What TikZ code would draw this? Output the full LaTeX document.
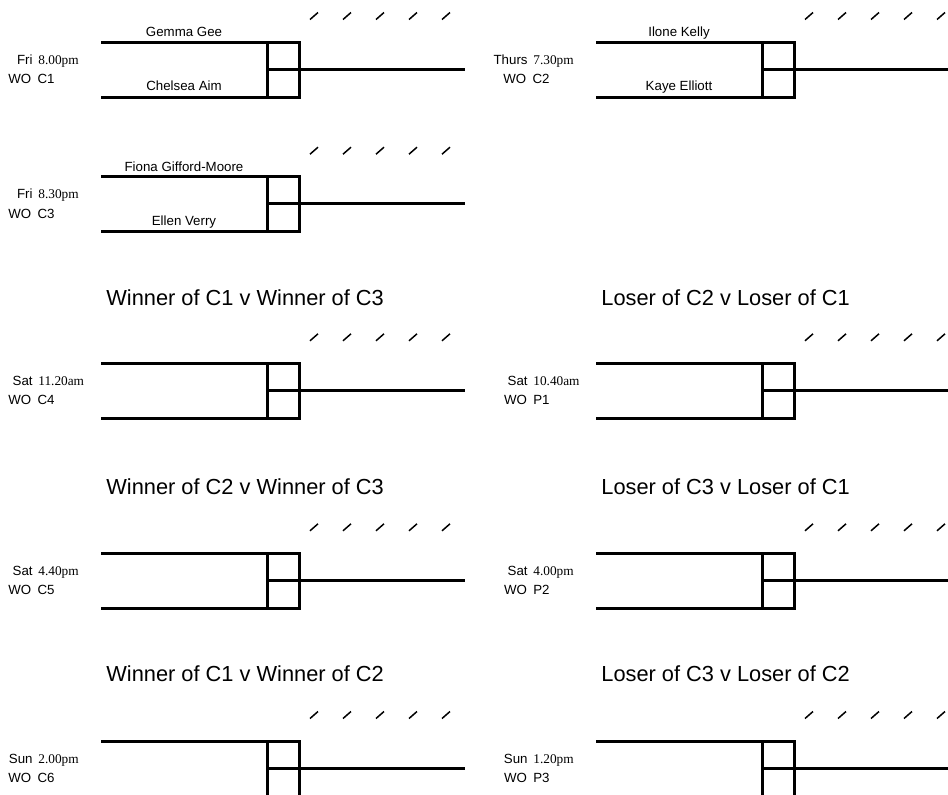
\documentclass[tikz,border=0pt]{standalone}
\usepackage{fontspec}
\setmainfont{Liberation Sans}
\newfontfamily\timefont{Liberation Serif}
\usetikzlibrary{positioning}

\tikzset{
  bar/.style={line width=1.5pt},
  tick/.style={line width=0.75pt},
  player/.style={anchor=base, inner sep=0pt, font=\fontsize{6.65}{8}\selectfont},
  daylbl/.style={anchor=base east, inner sep=0pt, font=\fontsize{6.65}{8}\selectfont},
  timelbl/.style={anchor=base west, inner sep=0pt, font=\fontsize{6.65}{8}\selectfont\timefont},
  wolbl/.style={anchor=base east, inner sep=0pt, font=\fontsize{6.65}{8}\selectfont},
  heading/.style={anchor=base west, inner sep=0pt, font=\fontsize{10.9}{13}\selectfont}
}

% one match: x, y of top left, id, day, time, code
\newcommand{\match}[6]{%
  \begin{scope}[shift={(#1,#2)}]
    \coordinate (#3-a) at (0,0);
    \coordinate (#3-b) at (198,0);
    \coordinate (#3-c) at (198,55);
    \coordinate (#3-d) at (0,55);
    \coordinate (#3-e) at (166,0);
    \coordinate (#3-f) at (166,55);
    \coordinate (#3-g) at (166,27);
    \coordinate (#3-h) at (364,27);
    \coordinate (#3-n1) at (83,-5.5);
    \coordinate (#3-n2) at (83,48.7);
    \draw[bar] (#3-a) -- (#3-b) -- (#3-c) -- (#3-d);
    \draw[bar] (#3-e) -- (#3-f);
    \draw[bar] (#3-g) -- (#3-h);
    \foreach \i in {0,...,4}
      \draw[tick] (213+33*\i-4,-22.5) -- (213+33*\i+4,-29.5);
    \node[daylbl] (#3-day) at (-68,22) {#4};
    \node[timelbl] (#3-time) at (-63,22) {#5};
    \node[wolbl] (#3-wo) at (-46,41.5) {WO\hspace{1.3pt} #6};
  \end{scope}}

% the two players of a match
\newcommand{\players}[3]{%
  \node[player] (#1-p1) at (#1-n1) {#2};
  \node[player] (#1-p2) at (#1-n2) {#3};}

\begin{document}
\begin{tikzpicture}[x=0.5pt, y=-0.5pt]
  \clip (0,0) rectangle (948,794);

  % first round
  \match{101}{42}{c1}{Fri}{8.00pm}{C1}
  \players{c1}{Gemma Gee}{Chelsea Aim}
  \match{596}{42}{c2}{Thurs}{7.30pm}{C2}
  \players{c2}{Ilone Kelly}{Kaye Elliott}
  \match{101}{176.7}{c3}{Fri}{8.30pm}{C3}
  \players{c3}{Fiona Gifford-Moore}{Ellen Verry}

  % later rounds
  \node[heading] (h-c4) at (106,305) {Winner of C1 v Winner of C3};
  \node[heading] (h-p1) at (601,305) {Loser of C2 v Loser of C1};
  \match{101}{363.3}{c4}{Sat}{11.20am}{C4}
  \match{596}{363.3}{p1}{Sat}{10.40am}{P1}

  \node[heading] (h-c5) at (106,494) {Winner of C2 v Winner of C3};
  \node[heading] (h-p2) at (601,494) {Loser of C3 v Loser of C1};
  \match{101}{553.3}{c5}{Sat}{4.40pm}{C5}
  \match{596}{553.3}{p2}{Sat}{4.00pm}{P2}

  \node[heading] (h-c6) at (106,681.7) {Winner of C1 v Winner of C2};
  \node[heading] (h-p3) at (601,681.7) {Loser of C3 v Loser of C2};
  \match{101}{741}{c6}{Sun}{2.00pm}{C6}
  \match{596}{741}{p3}{Sun}{1.20pm}{P3}
\end{tikzpicture}
\end{document}
